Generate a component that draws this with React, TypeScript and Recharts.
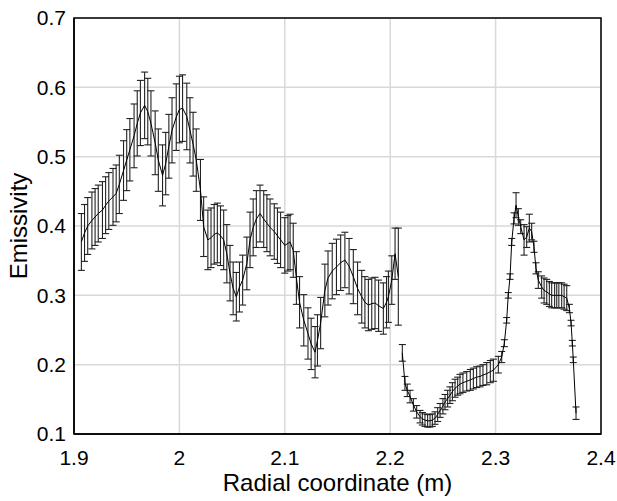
import { ComposedChart, Line, ErrorBar, XAxis, YAxis, CartesianGrid, ReferenceArea, Label } from "recharts";

// inner region (measured profile up to the gap)
const innerR = [
  1.907, 1.910, 1.913, 1.917, 1.920, 1.923, 1.927, 1.930, 1.933, 1.937,
  1.940, 1.943, 1.947, 1.950, 1.953, 1.957, 1.960, 1.963, 1.967, 1.970,
  1.973, 1.977, 1.980, 1.984, 1.987, 1.990, 1.993, 1.997, 2.000, 2.003,
  2.007, 2.010, 2.013, 2.016, 2.020, 2.023, 2.027, 2.030, 2.033, 2.036,
  2.039, 2.042, 2.045, 2.048, 2.051, 2.054, 2.057, 2.060, 2.064, 2.067,
  2.070, 2.073, 2.0765, 2.080, 2.083, 2.086, 2.090, 2.093, 2.096, 2.100,
  2.103, 2.105, 2.108, 2.111, 2.114, 2.118, 2.122, 2.125, 2.1287, 2.131,
  2.134, 2.138, 2.141, 2.145, 2.149, 2.153, 2.157, 2.161, 2.165, 2.169,
  2.173, 2.176, 2.1793, 2.1825, 2.1856, 2.189, 2.1935, 2.1965, 2.1983, 2.2015,
  2.2046, 2.2077,
];
const innerEm = [
  0.377, 0.390, 0.400, 0.408, 0.413, 0.418, 0.423, 0.430, 0.436, 0.442,
  0.447, 0.460, 0.480, 0.495, 0.510, 0.530, 0.548, 0.563, 0.574, 0.565,
  0.548, 0.520, 0.495, 0.473, 0.490, 0.515, 0.538, 0.557, 0.568, 0.570,
  0.558, 0.538, 0.518, 0.495, 0.452, 0.399, 0.380, 0.383, 0.388, 0.390,
  0.386, 0.380, 0.360, 0.332, 0.310, 0.298, 0.312, 0.322, 0.346, 0.380,
  0.398, 0.410, 0.418, 0.410, 0.404, 0.398, 0.392, 0.386, 0.380, 0.372,
  0.375, 0.377, 0.365, 0.325, 0.290, 0.264, 0.245, 0.230, 0.218, 0.235,
  0.260, 0.307, 0.325, 0.335, 0.341, 0.347, 0.351, 0.342, 0.327, 0.310,
  0.298, 0.290, 0.286, 0.288, 0.289, 0.285, 0.281, 0.290, 0.298, 0.322,
  0.360, 0.327,
];
const innerErr = [
  0.041, 0.041, 0.041, 0.041, 0.041, 0.041, 0.041, 0.041, 0.041, 0.041,
  0.041, 0.042, 0.043, 0.044, 0.045, 0.046, 0.047, 0.047, 0.048, 0.048,
  0.047, 0.046, 0.045, 0.044, 0.045, 0.046, 0.047, 0.048, 0.048, 0.048,
  0.048, 0.047, 0.046, 0.045, 0.044, 0.043, 0.043, 0.043, 0.043, 0.043,
  0.043, 0.043, 0.042, 0.040, 0.038, 0.035, 0.036, 0.036, 0.038, 0.040,
  0.041, 0.041, 0.041, 0.041, 0.041, 0.041, 0.040, 0.040, 0.040, 0.040,
  0.040, 0.040, 0.039, 0.038, 0.037, 0.037, 0.037, 0.037, 0.037, 0.037,
  0.037, 0.038, 0.039, 0.040, 0.040, 0.040, 0.040, 0.040, 0.039, 0.038,
  0.038, 0.037, 0.037, 0.037, 0.037, 0.037, 0.037, 0.037, 0.037, 0.035,
  0.037, 0.070,
];

// outer region (after the gap)
const outerR = [
  2.2115, 2.214, 2.2162, 2.2188, 2.222, 2.2251, 2.2283, 2.2305, 2.233, 2.2355,
  2.2378, 2.240, 2.2425, 2.245, 2.2473, 2.250, 2.252, 2.2545, 2.2567, 2.259,
  2.2615, 2.264, 2.2662, 2.269, 2.2726, 2.276, 2.2789, 2.282, 2.2852, 2.288,
  2.2916, 2.295, 2.2979, 2.3026, 2.3058, 2.3083, 2.3105, 2.312, 2.3137, 2.3153,
  2.3175, 2.3194, 2.3216, 2.3238, 2.327, 2.3295, 2.332, 2.3342, 2.3364, 2.3383,
  2.3405, 2.3437, 2.346, 2.3485, 2.351, 2.3532, 2.356, 2.358, 2.360, 2.3627,
  2.365, 2.3675, 2.370, 2.3716, 2.3728, 2.3737, 2.3763,
];
const outerEm = [
  0.217, 0.173, 0.163, 0.154, 0.142, 0.132, 0.125, 0.122, 0.120, 0.119,
  0.119, 0.120, 0.123, 0.128, 0.134, 0.140, 0.146, 0.151, 0.156, 0.161,
  0.166, 0.169, 0.172, 0.174, 0.176, 0.178, 0.180, 0.182, 0.183, 0.185,
  0.187, 0.190, 0.192, 0.200, 0.211, 0.231, 0.264, 0.300, 0.327, 0.377,
  0.411, 0.430, 0.413, 0.399, 0.380, 0.384, 0.397, 0.392, 0.370, 0.339,
  0.322, 0.312, 0.307, 0.305, 0.302, 0.300, 0.300, 0.300, 0.300, 0.300,
  0.298, 0.296, 0.281, 0.260, 0.231, 0.207, 0.130,
];
const outerErr = [
  0.012, 0.010, 0.009, 0.009, 0.009, 0.009, 0.009, 0.009, 0.009, 0.009,
  0.009, 0.009, 0.009, 0.010, 0.010, 0.011, 0.011, 0.012, 0.012, 0.013,
  0.013, 0.013, 0.014, 0.014, 0.014, 0.015, 0.015, 0.015, 0.015, 0.015,
  0.016, 0.016, 0.016, 0.012, 0.008, 0.005, 0.004, 0.004, 0.004, 0.005,
  0.008, 0.018, 0.012, 0.010, 0.022, 0.015, 0.020, 0.012, 0.008, 0.008,
  0.012, 0.016, 0.018, 0.018, 0.018, 0.018, 0.018, 0.018, 0.018, 0.018,
  0.018, 0.018, 0.006, 0.004, 0.004, 0.004, 0.009,
];

const xTicks = [1.9, 2.0, 2.1, 2.2, 2.3, 2.4];
const yTicks = [0.1, 0.2, 0.3, 0.4, 0.5, 0.6, 0.7];

const inner = innerR.map((r, i) => ({ r, em: innerEm[i], err: innerErr[i] }));
const outer = outerR.map((r, i) => ({ r, em: outerEm[i], err: outerErr[i] }));

const fmt = (v: number) => String(Number(v.toFixed(1)));
const font = "Liberation Sans, Arial, sans-serif";
const tickStyle = { fontSize: 21, fill: "#000", fontFamily: font };

export default function App() {
  return (
    <div style={{ position: "absolute", left: 0, top: 0, width: 617, height: 501, background: "#fff" }}>
      <ComposedChart
        width={617}
        height={501}
        margin={{ top: 18, right: 16, left: 14, bottom: 7 }}
        style={{ fontFamily: font }}
      >
        <CartesianGrid stroke="#d9d9d9" strokeWidth={1.5} horizontalValues={yTicks} verticalValues={xTicks} />
        <XAxis
          type="number"
          dataKey="r"
          domain={[1.9, 2.4]}
          ticks={xTicks}
          tickFormatter={fmt}
          allowDataOverflow
          height={60}
          tick={tickStyle}
          tickLine={false}
          tickSize={6}
          tickMargin={10}
          axisLine={{ stroke: "#000", strokeWidth: 1.5 }}
        >
          <Label value="Radial coordinate (m)" position="insideBottom" offset={3} style={{ fontSize: 24, fill: "#000", fontFamily: font }} />
        </XAxis>
        <YAxis
          type="number"
          domain={[0.1, 0.7]}
          ticks={yTicks}
          tickFormatter={fmt}
          allowDataOverflow
          width={60}
          tick={tickStyle}
          tickLine={false}
          axisLine={{ stroke: "#000", strokeWidth: 1.5 }}
        >
          <Label value="Emissivity" angle={-90} position="insideLeft" offset={4} style={{ fontSize: 24, fill: "#000", textAnchor: "middle", fontFamily: font }} />
        </YAxis>
        <ReferenceArea x1={1.9} x2={2.4} y1={0.1} y2={0.7} fill="none" stroke="#000" strokeWidth={1.5} fillOpacity={0} />
        <Line data={inner} dataKey="em" type="linear" stroke="#000" strokeWidth={1} dot={false} isAnimationActive={false}>
          <ErrorBar dataKey="err" direction="y" width={3.5} stroke="#222" strokeWidth={1.1} isAnimationActive={false} />
        </Line>
        <Line data={outer} dataKey="em" type="linear" stroke="#000" strokeWidth={1} dot={false} isAnimationActive={false}>
          <ErrorBar dataKey="err" direction="y" width={3.5} stroke="#222" strokeWidth={1.1} isAnimationActive={false} />
        </Line>
      </ComposedChart>
    </div>
  );
}
